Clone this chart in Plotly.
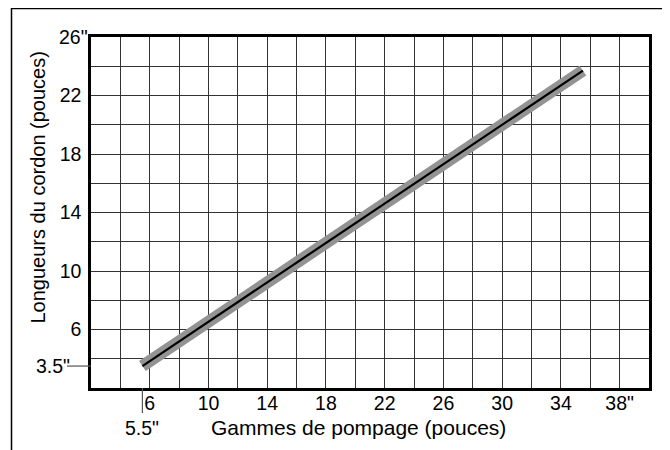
import plotly.graph_objects as go

# Data
pump_range = [5.5, 35.5]        # Gammes de pompage (pouces)
cord_length = [3.5, 23.7]       # Longueurs du cordon (pouces)
x_ticks = [6, 10, 14, 18, 22, 26, 30, 34, 38]
x_ticktext = ["6", "10", "14", "18", "22", "26", "30", "34", '38"']
y_ticks = [6, 10, 14, 18, 22]
y_ticktext = ["6", "10", "14", "18", "22"]
x_start_label = '5.5"'
y_start_label = '3.5"'
y_top_label = '26"'

FONT = "Liberation Sans, Arial, Helvetica, sans-serif"
W, H = 670, 450
OFF = 8  # page body margin
# plot area in screenshot pixels: left 91, top 37, right 649, bottom 388
L, T = 91 - OFF, 37 - OFF
R, B = W - (649 - OFF), H - (388 - OFF)
PW, PH = W - L - R, H - T - B

fig = go.Figure()
fig.add_trace(go.Scatter(x=pump_range, y=cord_length, mode="lines",
                         line=dict(color="#939393", width=12), hoverinfo="skip"))
fig.add_trace(go.Scatter(x=pump_range, y=cord_length, mode="lines",
                         line=dict(color="#000000", width=2.2)))

GRID_C = "#333333"
fig.update_xaxes(range=[2, 40], tickvals=x_ticks, ticktext=x_ticktext,
                 ticks="", ticklabelstandoff=-4,
                 showline=True, linecolor="black", linewidth=2.5, mirror=True,
                 zeroline=False, showgrid=True, gridcolor=GRID_C, gridwidth=1.4,
                 minor=dict(dtick=2, tick0=0, showgrid=True, gridcolor=GRID_C, gridwidth=1.4),
                 tickfont=dict(family=FONT, size=19.5, color="black"))
fig.update_yaxes(range=[2, 26], tickvals=y_ticks, ticktext=y_ticktext,
                 ticks="", ticklabelstandoff=3,
                 showline=True, linecolor="black", linewidth=2.5, mirror=True,
                 zeroline=False, showgrid=True, gridcolor=GRID_C, gridwidth=1.4,
                 minor=dict(dtick=2, tick0=0, showgrid=True, gridcolor=GRID_C, gridwidth=1.4),
                 tickfont=dict(family=FONT, size=19.5, color="black"))

def px_x(p):
    return (p - OFF - L) / PW

def px_y(p):
    return (H - B - (p - OFF)) / PH

shapes = [
    # outer frame
    dict(type="rect", xref="paper", yref="paper",
         x0=px_x(11.5), x1=px_x(665), y0=px_y(8.5), y1=px_y(480),
         line=dict(color="black", width=1.5)),
    # 5.5" marker tick
    dict(type="line", xref="x", yref="paper", x0=pump_range[0], x1=pump_range[0],
         y0=0, y1=px_y(413), line=dict(color="#555555", width=1.2)),
    # 3.5" marker tick
    dict(type="line", xref="paper", yref="y", x0=px_x(67), x1=0,
         y0=cord_length[0], y1=cord_length[0], line=dict(color="#555555", width=1.2)),
]

annotations = [
    dict(text=y_top_label, xref="paper", yref="y", x=0, y=26, xanchor="right",
         yanchor="middle", xshift=-1, showarrow=False,
         font=dict(family=FONT, size=19.5, color="black")),
    dict(text=y_start_label, xref="paper", yref="y", x=px_x(72), y=cord_length[0],
         xanchor="right", yanchor="middle", showarrow=False,
         font=dict(family=FONT, size=19.5, color="black")),
    dict(text=x_start_label, xref="x", yref="paper", x=pump_range[0], y=px_y(428),
         xanchor="center", yanchor="middle", showarrow=False,
         font=dict(family=FONT, size=19.5, color="black")),
    dict(text="Gammes de pompage (pouces)", xref="paper", yref="paper",
         x=px_x(358), y=px_y(428), xanchor="center", yanchor="middle", showarrow=False,
         font=dict(family=FONT, size=21, color="black")),
    dict(text="Longueurs du cordon (pouces)", xref="paper", yref="paper",
         x=px_x(38), y=px_y(187.5), xanchor="center", yanchor="middle",
         textangle=-90, showarrow=False,
         font=dict(family=FONT, size=20, color="black")),
]

fig.update_layout(width=W, height=H, margin=dict(l=L, r=R, t=T, b=B, pad=0),
                  plot_bgcolor="white", paper_bgcolor="white", showlegend=False,
                  shapes=shapes, annotations=annotations,
                  font=dict(family=FONT, color="black"))

fig.write_html("out.html")
